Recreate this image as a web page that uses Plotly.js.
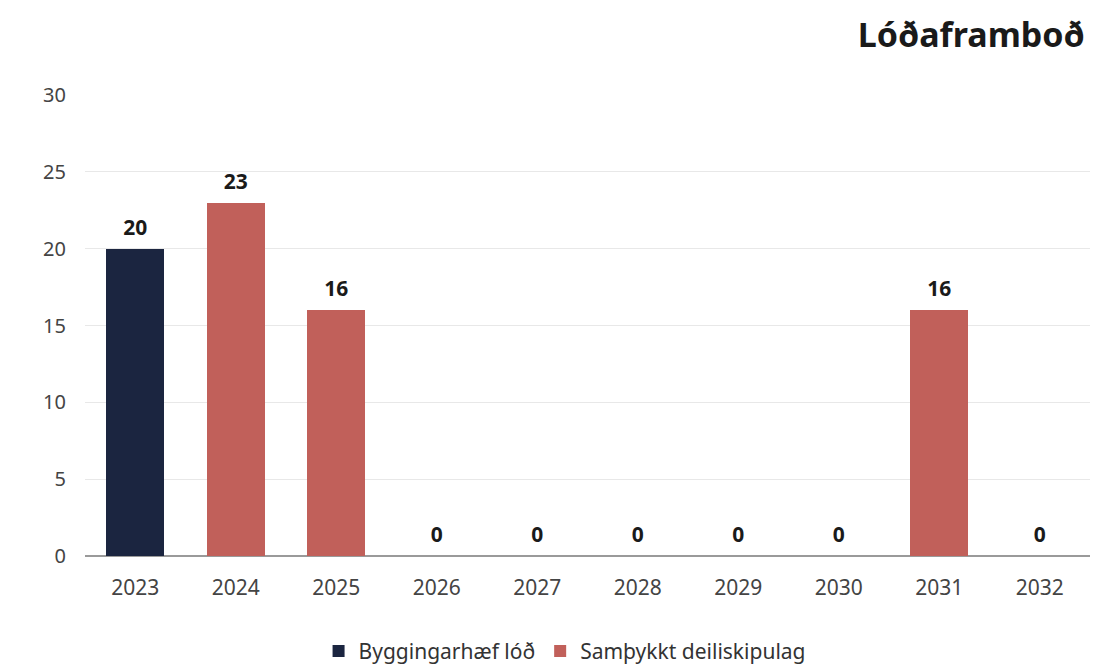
<!DOCTYPE html>
<html>
<head>
<meta charset="utf-8">
<script src="https://cdn.plot.ly/plotly-3.0.1.min.js"></script>
<style>html,body{margin:0;padding:0;background:#fff;}#chart{width:1107px;height:666px;}</style>
</head>
<body>
<div id="chart"></div>
<script>
const years = ['2023','2024','2025','2026','2027','2028','2029','2030','2031','2032'];
const byggingarhaef = [20,0,0,0,0,0,0,0,0,0];
const samthykkt = [0,23,16,0,0,0,0,0,16,0];
const seriesNames = ['Byggingarhæf lóð','Samþykkt deiliskipulag'];
const totals = years.map((_,i)=>byggingarhaef[i]+samthykkt[i]);

const font = "'Noto Sans', 'Open Sans', sans-serif";
const traces = [
  {type:'bar', x:years, y:byggingarhaef, name:seriesNames[0], marker:{color:'#1b2540'}, hoverinfo:'skip'},
  {type:'bar', x:years, y:samthykkt, name:seriesNames[1], marker:{color:'#c1605a'}, hoverinfo:'skip'},
  {type:'scatter', mode:'markers+text', x:years, y:totals, text:totals.map(String), textposition:'top center',
   marker:{size:12, opacity:0},
   textfont:{family:font, size:21, color:'#1a1a1a', weight:'bold'}, showlegend:false, hoverinfo:'skip', cliponaxis:false}
];
const layout = {
  width:1107, height:666,
  margin:{l:85, r:17, t:95, b:110, autoexpand:false},
  paper_bgcolor:'#fff', plot_bgcolor:'#fff',
  barmode:'stack', bargap:0.42,
  font:{family:font, color:'#555'},
  title:{text:'<b>Lóðaframboð</b>', x:0.98, xanchor:'right', xref:'container', y:0.947, yanchor:'middle', font:{family:font, size:34, color:'#1a1a1a'}},
  xaxis:{type:'category', range:[-0.5, years.length-0.5], tickfont:{size:21, color:'#444'}, showgrid:false, showline:false, ticks:'', zeroline:false, ticklabelstandoff:17},
  yaxis:{range:[0,30], dtick:5, tickfont:{size:20, color:'#444'}, gridcolor:'#e8e8e8', gridwidth:1, zeroline:true, zerolinecolor:'#9a9a9a', zerolinewidth:1.5, ticks:'', ticklabelstandoff:18, showline:false},
  showlegend:true,
  legend:{orientation:'h', x:0.51, xanchor:'center', xref:'container', y:0.022, yref:'container', yanchor:'middle', font:{size:21, color:'#333'}, traceorder:'normal'},
  hovermode:false
};
Plotly.newPlot('chart', traces, layout, {displayModeBar:false, staticPlot:true});
</script>
</body>
</html>
